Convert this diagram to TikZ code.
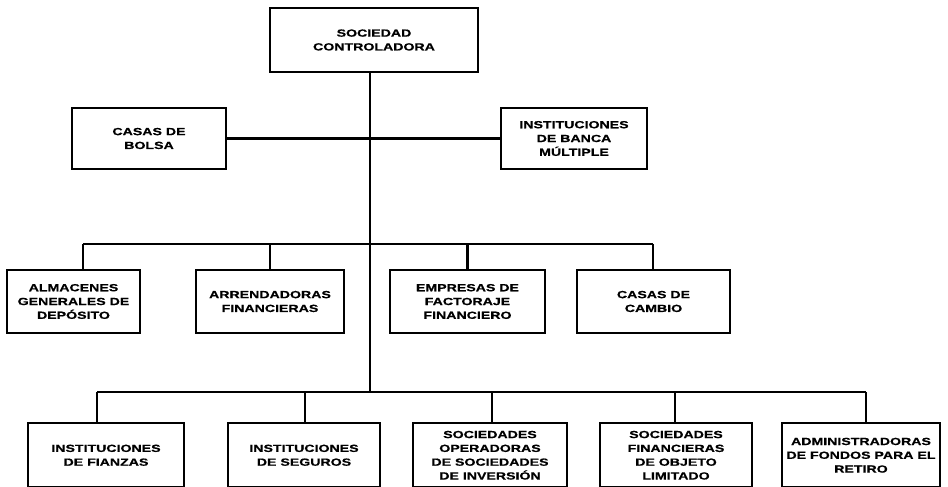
\documentclass[tikz,border=0pt]{standalone}
\usepackage{fontspec}
\newfontfamily\boxfont{Liberation Sans}[FakeStretch=1.36,FakeBold=0.6]
\begin{document}
\begin{tikzpicture}[x=1bp,y=-1bp,
  unit/.style={draw=black,line width=2.1bp,rectangle,inner sep=0pt,
    align=center,font=\boxfont\bfseries\fontsize{10.4bp}{13.8bp}\selectfont},
  link/.style={line width=2.1bp,black}]
\useasboundingbox (0,0) rectangle (948,487);
\clip (0,0) rectangle (948,487);

% top level
\node[unit,minimum width=208bp,minimum height=64bp] (sc) at (374,40) {SOCIEDAD\\CONTROLADORA};

% second level
\node[unit,minimum width=154bp,minimum height=61bp] (cb) at (149,138.5) {CASAS DE\\BOLSA};
\node[unit,minimum width=146bp,minimum height=61bp] (ib) at (574,138.5) {INSTITUCIONES\\DE BANCA\\MÚLTIPLE};

% third level
\node[unit,minimum width=133bp,minimum height=63bp] (ag) at (73.5,301.5) {ALMACENES\\GENERALES DE\\DEPÓSITO};
\node[unit,minimum width=148bp,minimum height=63bp] (af) at (270,301.5) {ARRENDADORAS\\FINANCIERAS};
\node[unit,minimum width=155bp,minimum height=63bp] (ef) at (467.5,301.5) {EMPRESAS DE\\FACTORAJE\\FINANCIERO};
\node[unit,minimum width=153bp,minimum height=63bp] (cc) at (653.5,301.5) {CASAS DE\\CAMBIO};

% fourth level
\node[unit,minimum width=156bp,minimum height=64.5bp] (if) at (106,455.25) {INSTITUCIONES\\DE FIANZAS};
\node[unit,minimum width=152bp,minimum height=64.5bp] (is) at (304,455.25) {INSTITUCIONES\\DE SEGUROS};
\node[unit,minimum width=154bp,minimum height=64.5bp] (so) at (490,455.25) {SOCIEDADES\\OPERADORAS\\DE SOCIEDADES\\DE INVERSIÓN};
\node[unit,minimum width=152bp,minimum height=64.5bp] (sf) at (676,455.25) {SOCIEDADES\\FINANCIERAS\\DE OBJETO\\LIMITADO};
\node[unit,minimum width=158bp,minimum height=64.5bp] (ad) at (861,455.25) {ADMINISTRADORAS\\DE FONDOS PARA EL\\RETIRO};

% bus points
\coordinate (trunk) at (370,392);
\coordinate (m1) at (83,244);
\coordinate (m4) at (653,244);
\coordinate (b1) at (97,392);
\coordinate (b2) at (305,392);
\coordinate (b3) at (492,392);
\coordinate (b4) at (675,392);
\coordinate (b5) at (866,392);

% connectors
\draw[link] (trunk |- sc.south) -- (trunk);
\draw[link] (cb.east) -- (ib.west);
\draw[link] (m1) -- (m4);
\draw[link] (m1) -- (m1 |- ag.north);
\draw[link] (af.north |- m1) -- (af.north);
\draw[link] (ef.north |- m1) -- (ef.north);
\draw[link] (m4) -- (m4 |- cc.north);
\draw[link] (b1) -- (b5);
\draw[link] (b1) -- (b1 |- if.north);
\draw[link] (b2) -- (b2 |- is.north);
\draw[link] (b3) -- (b3 |- so.north);
\draw[link] (b4) -- (b4 |- sf.north);
\draw[link] (b5) -- (b5 |- ad.north);
\end{tikzpicture}
\end{document}
